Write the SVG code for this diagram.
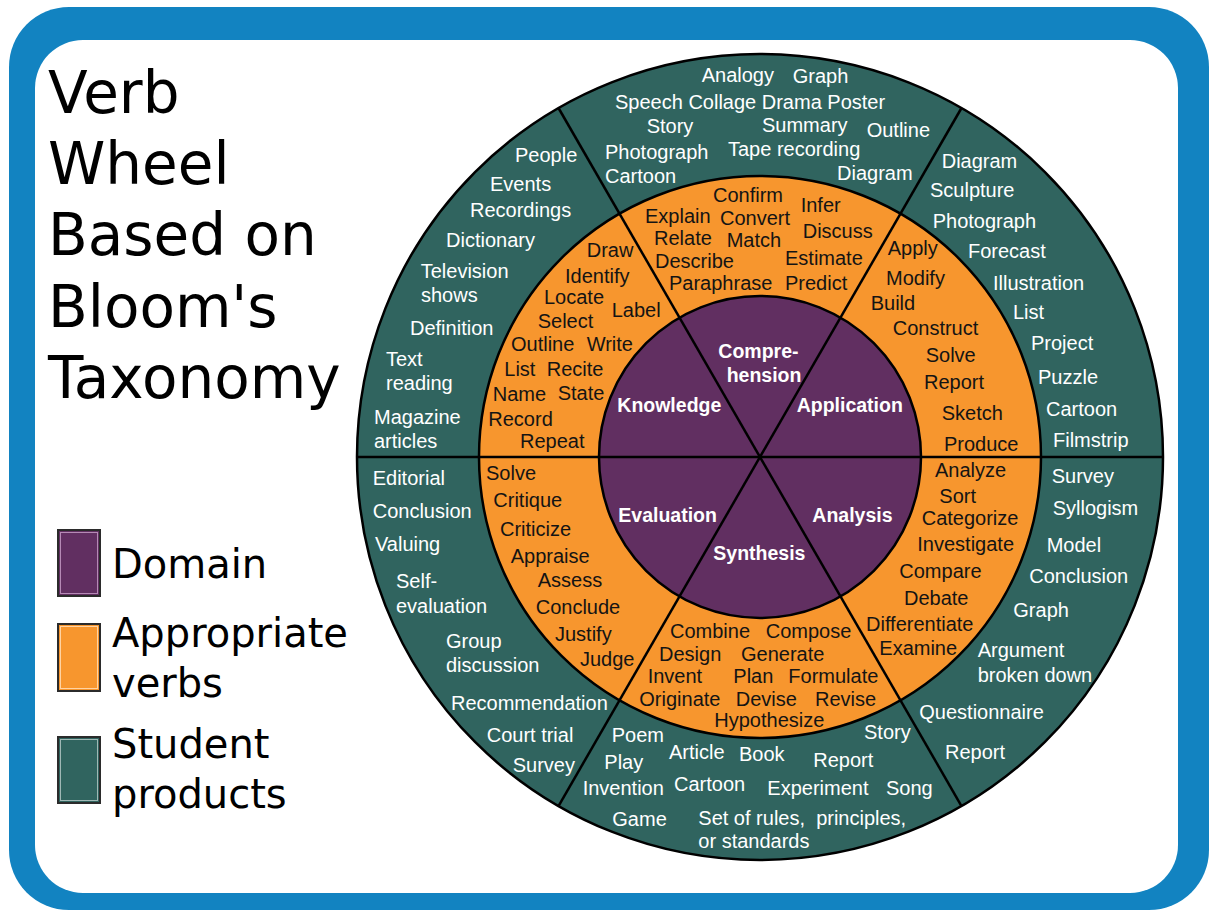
<svg xmlns="http://www.w3.org/2000/svg" width="1212" height="910" viewBox="0 0 1212 910">
<style>
.t{font-family:"Liberation Sans",Arial,sans-serif;font-size:20px;fill:#ffffff}
.o{font-family:"Liberation Sans",Arial,sans-serif;font-size:20px;fill:#141414}
.p{font-family:"Liberation Sans",Arial,sans-serif;font-size:19.5px;font-weight:bold;fill:#ffffff}
.ti{font-family:"DejaVu Sans",Verdana,sans-serif;font-size:58px;fill:#000000}
.lg{font-family:"DejaVu Sans",Verdana,sans-serif;font-size:40px;fill:#000000}
.ring{stroke:#000;stroke-width:2.5}
.div{stroke:#000;stroke-width:2.5;fill:none}
</style>
<g id="frame">
<rect x="9" y="7" width="1200" height="903" rx="60" fill="#1283c1"/>
<rect x="35" y="40" width="1143" height="853" rx="48" fill="#ffffff"/>
</g>
<g id="title">
<text class="ti" x="48" y="113">Verb</text>
<text class="ti" x="48" y="184">Wheel</text>
<text class="ti" x="48" y="255">Based on</text>
<text class="ti" x="48" y="327">Bloom's</text>
<text class="ti" x="48" y="398">Taxonomy</text>
</g>
<g id="legend-domain">
<rect x="58" y="530" width="42" height="66" fill="#612f61" stroke="#2b2b2b" stroke-width="2"/>
<rect x="60.5" y="532.5" width="37" height="61" fill="none" stroke="#b58ab5" stroke-width="1"/>
<text class="lg" x="112" y="578">Domain</text>
</g>
<g id="legend-verbs">
<rect x="58" y="624" width="42" height="67" fill="#f7962e" stroke="#2b2b2b" stroke-width="2"/>
<rect x="60.5" y="626.5" width="37" height="62" fill="none" stroke="#ffd3a3" stroke-width="1"/>
<text class="lg" x="112" y="647">Appropriate</text>
<text class="lg" x="112" y="697">verbs</text>
</g>
<g id="legend-products">
<rect x="58" y="737" width="42" height="66" fill="#30645f" stroke="#2b2b2b" stroke-width="2"/>
<rect x="60.5" y="739.5" width="37" height="61" fill="none" stroke="#9fb8b5" stroke-width="1"/>
<text class="lg" x="112" y="758">Student</text>
<text class="lg" x="112" y="808">products</text>
</g>
<g id="wheel">
<circle class="ring" cx="760" cy="457" r="403" fill="#30645f"/>
<circle class="ring" cx="760" cy="457" r="281" fill="#f7962e"/>
<circle class="ring" cx="760" cy="457" r="161" fill="#612f61"/>
</g>
<g id="connectors">
<line class="div" x1="357" y1="457" x2="1163" y2="457"/>
<line class="div" x1="558.5" y1="108" x2="961.5" y2="806"/>
<line class="div" x1="961.5" y1="108" x2="558.5" y2="806"/>
</g>
<g id="products-comprehension">
<text class="t" x="701.7" y="82">Analogy</text>
<text class="t" x="792.7" y="83">Graph</text>
<text class="t" x="615" y="109">Speech Collage Drama Poster</text>
<text class="t" x="646.7" y="133">Story</text>
<text class="t" x="762" y="131.7">Summary</text>
<text class="t" x="866.7" y="137">Outline</text>
<text class="t" x="605" y="159">Photograph</text>
<text class="t" x="728" y="155.5">Tape recording</text>
<text class="t" x="605" y="183">Cartoon</text>
<text class="t" x="837" y="180">Diagram</text>
</g>
<g id="products-knowledge">
<text class="t" x="515" y="162">People</text>
<text class="t" x="490" y="190.7">Events</text>
<text class="t" x="470" y="217">Recordings</text>
<text class="t" x="446" y="247">Dictionary</text>
<text class="t" x="420.7" y="277.7">Television</text>
<text class="t" x="421" y="301.7">shows</text>
<text class="t" x="410" y="335">Definition</text>
<text class="t" x="386" y="366">Text</text>
<text class="t" x="386" y="390">reading</text>
<text class="t" x="374" y="424">Magazine</text>
<text class="t" x="374" y="448">articles</text>
</g>
<g id="products-application">
<text class="t" x="941.7" y="168.3">Diagram</text>
<text class="t" x="930" y="196.7">Sculpture</text>
<text class="t" x="932.7" y="228.3">Photograph</text>
<text class="t" x="968" y="258.3">Forecast</text>
<text class="t" x="993" y="290">Illustration</text>
<text class="t" x="1013" y="319.3">List</text>
<text class="t" x="1031" y="350">Project</text>
<text class="t" x="1038" y="384">Puzzle</text>
<text class="t" x="1046" y="416">Cartoon</text>
<text class="t" x="1053" y="446.7">Filmstrip</text>
</g>
<g id="products-analysis">
<text class="t" x="1051.7" y="482.7">Survey</text>
<text class="t" x="1052.7" y="515">Syllogism</text>
<text class="t" x="1046.7" y="551.7">Model</text>
<text class="t" x="1029.3" y="582.7">Conclusion</text>
<text class="t" x="1013.3" y="616.7">Graph</text>
<text class="t" x="977.7" y="656.7">Argument</text>
<text class="t" x="977.7" y="681.7">broken down</text>
<text class="t" x="919.3" y="719.3">Questionnaire</text>
<text class="t" x="945" y="759">Report</text>
</g>
<g id="products-synthesis">
<text class="t" x="611.7" y="741.7">Poem</text>
<text class="t" x="604.3" y="769.3">Play</text>
<text class="t" x="582.7" y="795">Invention</text>
<text class="t" x="612.3" y="825.7">Game</text>
<text class="t" x="669" y="759.3">Article</text>
<text class="t" x="739" y="760.7">Book</text>
<text class="t" x="674" y="790.7">Cartoon</text>
<text class="t" x="813.3" y="766.7">Report</text>
<text class="t" x="864" y="739.3">Story</text>
<text class="t" x="767.3" y="795">Experiment</text>
<text class="t" x="886" y="795">Song</text>
<text class="t" x="698.3" y="825" xml:space="preserve">Set of rules,  principles,</text>
<text class="t" x="698.3" y="848.3">or standards</text>
</g>
<g id="products-evaluation">
<text class="t" x="372.7" y="485">Editorial</text>
<text class="t" x="372.7" y="518.3">Conclusion</text>
<text class="t" x="375" y="550.5">Valuing</text>
<text class="t" x="396" y="588.3">Self-</text>
<text class="t" x="396" y="613.3">evaluation</text>
<text class="t" x="446" y="648.3">Group</text>
<text class="t" x="446" y="671.7">discussion</text>
<text class="t" x="451" y="710">Recommendation</text>
<text class="t" x="486.7" y="741.7">Court trial</text>
<text class="t" x="512.7" y="771.7">Survey</text>
</g>
<g id="verbs-knowledge">
<text class="o" x="586.7" y="257">Draw</text>
<text class="o" x="565" y="283">Identify</text>
<text class="o" x="544" y="304">Locate</text>
<text class="o" x="611.7" y="316.7">Label</text>
<text class="o" x="537.7" y="328.3">Select</text>
<text class="o" x="511" y="350.7">Outline</text>
<text class="o" x="586.7" y="350.7">Write</text>
<text class="o" x="504.3" y="376">List</text>
<text class="o" x="546.7" y="376">Recite</text>
<text class="o" x="492.7" y="401">Name</text>
<text class="o" x="557.7" y="400">State</text>
<text class="o" x="488.3" y="426">Record</text>
<text class="o" x="520" y="448">Repeat</text>
</g>
<g id="verbs-comprehension">
<text class="o" x="713" y="201.7">Confirm</text>
<text class="o" x="800.7" y="211.7">Infer</text>
<text class="o" x="645" y="223">Explain</text>
<text class="o" x="720" y="225">Convert</text>
<text class="o" x="802.7" y="238.3">Discuss</text>
<text class="o" x="654" y="245">Relate</text>
<text class="o" x="726.7" y="246.7">Match</text>
<text class="o" x="655" y="268">Describe</text>
<text class="o" x="785" y="265">Estimate</text>
<text class="o" x="669" y="290">Paraphrase</text>
<text class="o" x="785" y="290">Predict</text>
</g>
<g id="verbs-application">
<text class="o" x="887.7" y="255">Apply</text>
<text class="o" x="886" y="285">Modify</text>
<text class="o" x="870.7" y="310">Build</text>
<text class="o" x="892.7" y="335">Construct</text>
<text class="o" x="925.7" y="361.7">Solve</text>
<text class="o" x="924" y="388.5">Report</text>
<text class="o" x="941.7" y="420">Sketch</text>
<text class="o" x="944" y="451">Produce</text>
</g>
<g id="verbs-analysis">
<text class="o" x="935" y="476.7">Analyze</text>
<text class="o" x="939.3" y="502.7">Sort</text>
<text class="o" x="921.7" y="525">Categorize</text>
<text class="o" x="917.3" y="550.7">Investigate</text>
<text class="o" x="899.3" y="578.3">Compare</text>
<text class="o" x="904" y="605">Debate</text>
<text class="o" x="866" y="630.7">Differentiate</text>
<text class="o" x="879.3" y="655">Examine</text>
</g>
<g id="verbs-synthesis">
<text class="o" x="670" y="638.3">Combine</text>
<text class="o" x="765.7" y="638.3">Compose</text>
<text class="o" x="659" y="660.7">Design</text>
<text class="o" x="741" y="660.7">Generate</text>
<text class="o" x="647.7" y="683.3">Invent</text>
<text class="o" x="733.3" y="683.3">Plan</text>
<text class="o" x="788.3" y="683.3">Formulate</text>
<text class="o" x="639.3" y="706">Originate</text>
<text class="o" x="735.7" y="706">Devise</text>
<text class="o" x="815" y="706">Revise</text>
<text class="o" x="714.3" y="727.3">Hypothesize</text>
</g>
<g id="verbs-evaluation">
<text class="o" x="486" y="480">Solve</text>
<text class="o" x="493.3" y="507.3">Critique</text>
<text class="o" x="500" y="536">Criticize</text>
<text class="o" x="510.7" y="562.7">Appraise</text>
<text class="o" x="537.7" y="586.7">Assess</text>
<text class="o" x="535.7" y="614">Conclude</text>
<text class="o" x="555" y="640.7">Justify</text>
<text class="o" x="580" y="665.5">Judge</text>
</g>
<g id="domains">
<text class="p" x="718.3" y="358.3">Compre-</text>
<text class="p" x="726.7" y="381.7">hension</text>
<text class="p" x="617.3" y="411.7">Knowledge</text>
<text class="p" x="796.7" y="411.7">Application</text>
<text class="p" x="618.3" y="521.7">Evaluation</text>
<text class="p" x="812.3" y="521.7">Analysis</text>
<text class="p" x="713.3" y="560">Synthesis</text>
</g>
</svg>
